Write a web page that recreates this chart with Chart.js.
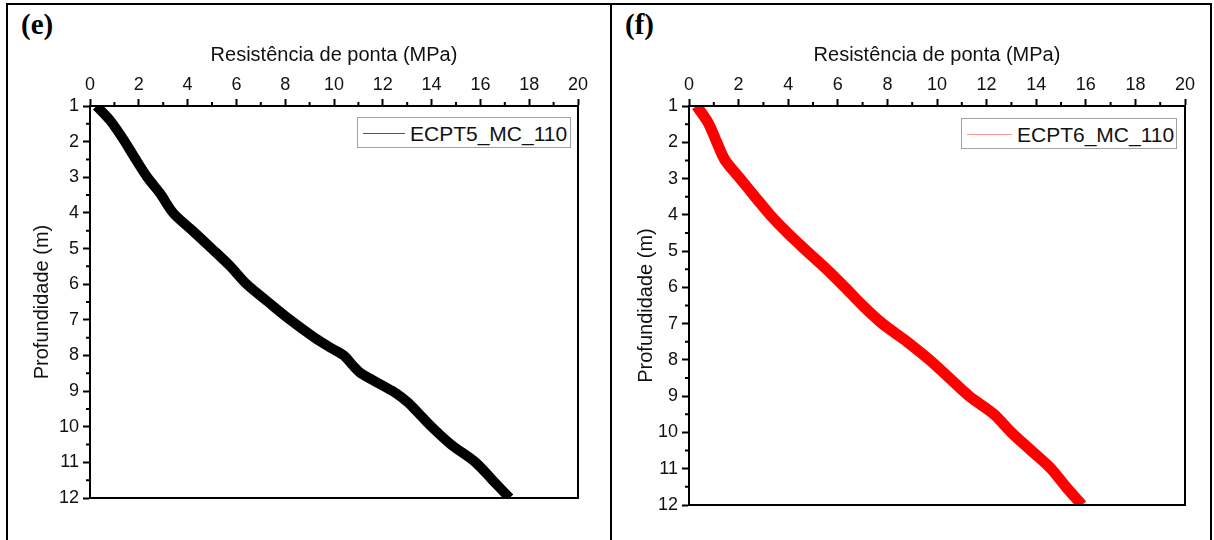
<!DOCTYPE html>
<html>
<head>
<meta charset="utf-8">
<script src="https://cdn.jsdelivr.net/npm/chart.js@4/dist/chart.umd.min.js"></script>
<style>
  html, body { margin: 0; padding: 0; background: #fff; }
  body { width: 1214px; height: 540px; position: relative; overflow: hidden; font-family: "Liberation Sans", Arial, sans-serif; }
  .ln { position: absolute; background: #000; }
  .lbl { position: absolute; font-family: "Liberation Serif", "Times New Roman", serif; font-weight: bold; font-size: 29px; line-height: 1; color: #000; }
  .cw { position: absolute; }
  .legend { position: absolute; border: 1px solid #a0a0a0; background: #fff; box-sizing: border-box; font-size: 21px; color: #111; }
  .legend .sw { position: absolute; height: 1px; }
  .legend .tx { position: absolute; line-height: 1; white-space: nowrap; }
</style>
</head>
<body>
<div class="ln" style="left:6px;top:3px;width:1206px;height:2px"></div>
<div class="ln" style="left:6px;top:3px;width:2px;height:537px"></div>
<div class="ln" style="left:610px;top:3px;width:2px;height:537px"></div>
<div class="ln" style="left:1210px;top:3px;width:2px;height:537px"></div>

<div class="lbl" style="left:21px;top:10px">(e)</div>
<div class="lbl" style="left:625px;top:10px">(f)</div>

<div class="cw" style="left:8px;top:5px;width:602px;height:535px"><canvas id="c1"></canvas></div>
<div class="cw" style="left:612px;top:5px;width:598px;height:535px"><canvas id="c2"></canvas></div>

<div class="legend" style="left:357px;top:117px;width:214px;height:31px">
  <div class="sw" style="left:5px;top:15px;width:42px;background:#555"></div>
  <div class="tx" style="left:52px;top:5px">ECPT5_MC_110</div>
</div>
<div class="legend" style="left:961px;top:118px;width:216px;height:31px">
  <div class="sw" style="left:5px;top:15px;width:45px;background:#ff9999"></div>
  <div class="tx" style="left:55px;top:5px">ECPT6_MC_110</div>
</div>

<script>
// ---- data ----
const xTitle = "Resistência de ponta (MPa)";
const yTitle = "Profundidade (m)";
const seriesNames = ["ECPT5_MC_110", "ECPT6_MC_110"];

const depthE = [1.0, 1.4, 2.0, 2.46, 3.0, 3.45, 4.0, 4.48, 5.0, 5.49, 6.0, 6.5, 7.0, 7.5, 7.8, 8.0, 8.3, 8.5, 9.0, 9.3, 9.5, 10.0, 10.5, 11.0, 11.5, 12.0];
const qcE    = [0.27, 0.82, 1.43, 1.84, 2.35, 2.87, 3.41, 4.17, 4.99, 5.74, 6.42, 7.3, 8.2, 9.2, 9.9, 10.4, 10.8, 11.1, 12.4, 13.0, 13.3, 14.0, 14.8, 15.8, 16.5, 17.2];

const depthF = [1.0, 1.47, 2.0, 2.49, 3.0, 3.5, 4.0, 4.52, 5.0, 5.5, 6.0, 6.5, 7.0, 7.5, 8.0, 8.5, 9.0, 9.5, 10.0, 10.5, 11.0, 11.5, 12.0];
const qcF    = [0.31, 0.78, 1.12, 1.45, 2.06, 2.66, 3.27, 4.0, 4.75, 5.55, 6.29, 7.0, 7.8, 8.8, 9.7, 10.5, 11.3, 12.3, 13.0, 13.8, 14.6, 15.2, 15.85];

const xMin = 0, xMax = 20, xStep = 2;
const yMin = 1, yMax = 12, yStep = 1;

// ---- plugins ----
const framePlugin = {
  id: 'frame',
  afterDatasetsDraw(chart) {
    const {ctx, chartArea: a, scales} = chart;
    ctx.save();
    ctx.strokeStyle = '#000';
    ctx.lineWidth = 2;
    ctx.strokeRect(a.left, a.top, a.right - a.left, a.bottom - a.top);
    ctx.beginPath();
    for (let v = xMin + xStep / 2; v < xMax; v += xStep) {
      const px = scales.x.getPixelForValue(v);
      ctx.moveTo(px, a.top);
      ctx.lineTo(px, a.top - 4);
    }
    for (let v = yMin + yStep / 2; v < yMax; v += yStep) {
      const py = scales.y.getPixelForValue(v);
      ctx.moveTo(a.left, py);
      ctx.lineTo(a.left - 4, py);
    }
    ctx.stroke();
    ctx.restore();
  }
};

function makeChart(id, xs, ys, name, color, geo) {
  const data = xs.map((x, i) => ({x: x, y: ys[i]}));
  return new Chart(document.getElementById(id), {
    type: 'scatter',
    data: {
      datasets: [{
        label: name,
        data: data,
        showLine: true,
        pointRadius: 0,
        borderColor: color,
        backgroundColor: color,
        borderWidth: geo.lw,
        borderJoinStyle: 'round',
        tension: 0.3,
        clip: 0
      }]
    },
    options: {
      responsive: true,
      maintainAspectRatio: false,
      animation: false,
      layout: { padding: { left: 0, top: 0, right: geo.padR, bottom: geo.padB } },
      plugins: { legend: { display: false }, tooltip: { enabled: false } },
      scales: {
        x: {
          type: 'linear',
          position: 'top',
          min: xMin, max: xMax,
          afterFit(s) { s.height = geo.top; },
          ticks: { stepSize: xStep, color: '#111', font: { family: 'Liberation Sans', size: 18 }, padding: 3, maxRotation: 0 },
          grid: { display: true, drawOnChartArea: false, drawTicks: true, tickLength: 7, tickWidth: 2, tickColor: '#000' },
          border: { display: true, color: '#000', width: 2 },
          title: { display: true, text: xTitle, color: '#111', font: { family: 'Liberation Sans', size: 20 }, padding: { top: 38, bottom: 0 } }
        },
        y: {
          type: 'linear',
          position: 'left',
          reverse: true,
          min: yMin, max: yMax,
          afterFit(s) { s.width = geo.left; },
          ticks: { stepSize: yStep, color: '#111', font: { family: 'Liberation Sans', size: 18 }, padding: 4 },
          grid: { display: true, drawOnChartArea: false, drawTicks: true, tickLength: 7, tickWidth: 2, tickColor: '#000' },
          border: { display: true, color: '#000', width: 2 },
          title: { display: true, text: yTitle, color: '#111', font: { family: 'Liberation Sans', size: 20 }, padding: { top: 22, bottom: 0 } }
        }
      }
    },
    plugins: [framePlugin]
  });
}

// (e): plot area page x 90..578, y 106..498 ; canvas origin (8,5)
makeChart('c1', qcE, depthE, seriesNames[0], '#000000', { left: 82, top: 101, padR: 32, padB: 42, lw: 10 });
// (f): plot area page x 689..1185, y 106..505 ; canvas origin (612,5)
makeChart('c2', qcF, depthF, seriesNames[1], '#ff0000', { left: 77, top: 101, padR: 25, padB: 35, lw: 11 });
</script>
</body>
</html>
